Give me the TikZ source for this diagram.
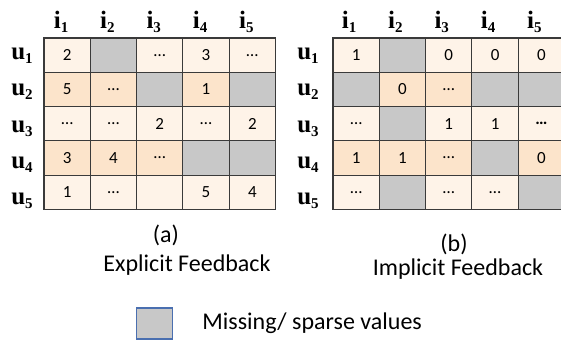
\documentclass[tikz,border=0pt]{standalone}
\usepackage{fontspec}
\setmainfont{Carlito}
\newfontfamily\labfont{Liberation Serif}
\usetikzlibrary{positioning}

\definecolor{pale}{HTML}{FEF3E8}
\definecolor{warm}{HTML}{FCE4CB}
\definecolor{miss}{HTML}{C8C8C8}
\definecolor{grid}{HTML}{3A3A3A}
\definecolor{keyblue}{HTML}{4A6FB0}

\newcommand\hlab[2]{#1\raisebox{-4pt}{\fontsize{15}{15}\selectfont #2}}

\tikzset{
  cell/.style={draw=grid, line width=1.1pt, minimum width=46.3pt, minimum height=34.3pt,
    inner sep=0pt, font=\fontsize{17}{17}\selectfont},
  hdr/.style={inner sep=0pt, font=\labfont\bfseries\fontsize{25}{25}\selectfont},
  caption/.style={inner sep=1pt, font=\fontsize{24}{28}\selectfont}
}

\begin{document}
\begin{tikzpicture}[x=1pt, y=-1pt]
    \useasboundingbox (0,0) rectangle (561,341);

    % (a) explicit ratings
    \foreach \row [count=\r] in {
        {2/pale, /miss, …/pale, 3/pale, …/pale},
        {5/warm, …/warm, /miss, 1/warm, /miss},
        {…/pale, …/pale, 2/pale, …/pale, 2/pale},
        {3/warm, 4/warm, …/warm, /miss, /miss},
        {1/pale, …/pale, /pale, 5/pale, 4/pale}} {
      \foreach \v/\t [count=\c] in \row
        \node[cell, fill=\t] (a-\r-\c) at ({44+46.3*(\c-0.5)}, {38+34.3*(\r-0.5)}) {\v};
    }

    % (b) implicit feedback
    \foreach \row [count=\r] in {
        {1/pale, /miss, 0/pale, 0/pale, 0/pale},
        {/miss, 0/warm, …/warm, /miss, /miss},
        {…/pale, /miss, 1/pale, 1/pale, \textbf{…}/pale},
        {1/warm, 1/warm, …/warm, /miss, 0/warm},
        {…/pale, /miss, …/pale, …/pale, /miss}} {
      \foreach \v/\t [count=\c] in \row
        \node[cell, fill=\t] (b-\r-\c) at ({333+46.3*(\c-0.5)}, {38+34.3*(\r-0.5)}) {\v};
    }

    \foreach \c in {1,...,5} {
      \node[hdr] (ai-\c) at ([xshift=-6pt, yshift=16pt]a-1-\c.north) {\hlab{i}{\c}};
      \node[hdr] (bi-\c) at ([xshift=-7pt, yshift=16pt]b-1-\c.north) {\hlab{i}{\c}};
      \node[hdr] (au-\c) at (22, {56+36.2*(\c-1)}) {\hlab{u}{\c}};
      \node[hdr] (bu-\c) at (308, {56+36.2*(\c-1)}) {\hlab{u}{\c}};
    }

    \node[caption] (capa) at (166,235) {(a)};
    \node[caption] (expl) at (187,265) {Explicit Feedback};
    \node[caption] (capb) at (454,244) {(b)};
    \node[caption] (impl) at (458,269) {Implicit Feedback};

    \node[draw=keyblue, line width=1.5pt, fill=miss, minimum width=36pt, minimum height=31pt,
      inner sep=0pt] (key) at (154.5,323.5) {};
    \node[caption, right=28pt of key] (keytxt) {Missing/ sparse values};
\end{tikzpicture}
\end{document}
